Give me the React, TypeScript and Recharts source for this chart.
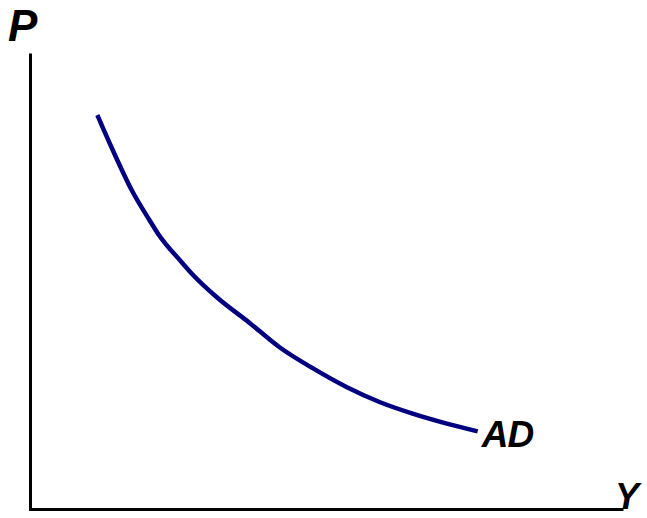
import React from "react";
import { LineChart, Line, XAxis, YAxis, Customized, ReferenceLine } from "recharts";

const outputY = [11.3, 13.9, 17.1, 20.1, 21.5, 25.7, 27.2, 31.5, 37.1, 42.1, 47.7, 53.5, 59.1, 64.6, 70.4, 75.6];
const priceLevel = [86.8, 79.1, 70.3, 63.7, 60.8, 54.2, 52.0, 46.7, 41.0, 35.7, 31.1, 26.9, 23.6, 21.1, 18.9, 17.2];
const curveName = "AD";
const xAxisName = "Y";
const yAxisName = "P";

const data = outputY.map((y, i) => ({ y, p: priceLevel[i] }));

const labelFont = "'Liberation Sans', Arial, sans-serif";

const EndLabel = (props: any) => {
  const { x, y, index } = props;
  if (index !== data.length - 1) return null;
  return (
    <text
      x={x + 4}
      y={y + 16}
      fontFamily={labelFont}
      fontStyle="italic"
      fontWeight="bold"
      fontSize={37}
      letterSpacing={-1}
      fill="#000"
    >
      {curveName}
    </text>
  );
};

const AxisNames = () => (
  <g>
    <text x={8} y={41} fontFamily={labelFont} fontStyle="italic" fontWeight="bold" fontSize={44} fill="#000">
      {yAxisName}
    </text>
    <text x={615} y={509} fontFamily={labelFont} fontStyle="italic" fontWeight="bold" fontSize={36} fill="#000">
      {xAxisName}
    </text>
  </g>
);

export default function App() {
  return (
    <div style={{ position: "absolute", left: 0, top: 0, width: 647, height: 518, background: "#fff" }}>
      <LineChart
        width={647}
        height={518}
        data={data}
        margin={{ top: 55, right: 25, bottom: 8.5, left: 30.5 }}
      >
        <XAxis type="number" dataKey="y" domain={[0, 100]} hide />
        <YAxis type="number" dataKey="p" domain={[0, 100]} hide />
        <ReferenceLine x={0} stroke="#000" strokeWidth={3} strokeLinecap="square" />
        <ReferenceLine y={0} stroke="#000" strokeWidth={3} strokeLinecap="square" />
        <Line
          type="monotone"
          dataKey="p"
          stroke="#000080"
          strokeWidth={4.5}
          dot={false}
          isAnimationActive={false}
          label={<EndLabel />}
        />
        <Customized component={AxisNames} />
      </LineChart>
    </div>
  );
}
